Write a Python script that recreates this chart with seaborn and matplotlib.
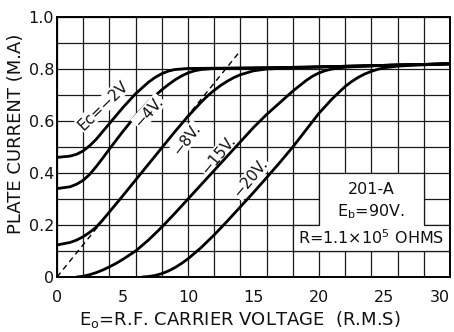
import numpy as np
import pandas as pd
import matplotlib
matplotlib.use("Agg")
import matplotlib.pyplot as plt
from matplotlib.ticker import MultipleLocator, FixedLocator
from matplotlib.patches import Polygon
import seaborn as sns

# Plate current (mA) of a 201-A detector vs. r.f. carrier voltage, one curve per grid bias
ec2_v = [0, 1, 1.5, 2, 2.5, 3, 3.5, 4, 5, 6, 7, 7.5, 8, 8.5, 9, 10, 12, 15, 20, 25, 30]
ec2_i = [0.46, 0.465, 0.472, 0.485, 0.505, 0.53, 0.56, 0.59, 0.65, 0.705, 0.75,
         0.768, 0.782, 0.792, 0.798, 0.802, 0.803, 0.804, 0.808, 0.814, 0.82]

ec4_v = [0, 1, 1.5, 2, 2.5, 3, 3.5, 4, 5, 6, 7, 8, 8.5, 9, 9.5, 10, 10.5, 11, 12,
         15, 20, 25, 30]
ec4_i = [0.34, 0.347, 0.357, 0.372, 0.395, 0.425, 0.458, 0.492, 0.558, 0.62,
         0.675, 0.72, 0.74, 0.758, 0.773, 0.785, 0.793, 0.798, 0.802, 0.804,
         0.808, 0.814, 0.82]

ec8_v = [0, 1, 1.5, 2, 2.5, 3, 3.5, 4, 5, 6, 7, 8, 9, 10, 11, 11.5, 12, 12.5, 13,
         13.5, 14, 15, 16, 20, 25, 30]
ec8_i = [0.123, 0.133, 0.142, 0.155, 0.172, 0.192, 0.22, 0.25, 0.311, 0.373,
         0.435, 0.497, 0.559, 0.618, 0.672, 0.697, 0.718, 0.737, 0.753, 0.767,
         0.778, 0.793, 0.80, 0.808, 0.814, 0.82]

ec15_v = [1.5, 2, 2.5, 3, 3.5, 4, 4.5, 5, 6, 7, 8, 9, 10, 11, 12, 13, 14, 15, 16,
          17, 18, 18.5, 19, 19.5, 20, 20.5, 21, 22, 25, 30]
ec15_i = [0.0, 0.003, 0.009, 0.017, 0.027, 0.039, 0.052, 0.067, 0.10, 0.143,
          0.192, 0.245, 0.30, 0.355, 0.41, 0.465, 0.52, 0.575, 0.625, 0.67, 0.715,
          0.735, 0.755, 0.772, 0.785, 0.794, 0.80, 0.807, 0.814, 0.82]

ec20_v = [6.5, 7, 7.5, 8, 8.5, 9, 9.5, 10, 11, 12, 13, 14, 15, 16, 17, 18, 19, 20,
          21, 22, 22.5, 23, 23.5, 24, 24.5, 25, 26, 27, 30]
ec20_i = [0.0, 0.002, 0.006, 0.013, 0.023, 0.036, 0.052, 0.07, 0.113, 0.162,
          0.215, 0.27, 0.325, 0.382, 0.44, 0.50, 0.565, 0.63, 0.685, 0.733, 0.752,
          0.768, 0.781, 0.791, 0.799, 0.805, 0.811, 0.814, 0.82]

# straight-line extension of the linear part of the -8 V curve
tangent_v = [0, 14]
tangent_i = [0.0, 0.87]

bias_labels = ["Ec=\u22122V", "\u22124V.", "\u22128V.", "\u221215V.", "\u221220V."]

x_ticks = [0, 5, 10, 15, 20, 25, 30]
y_ticks = [0, 0.2, 0.4, 0.6, 0.8, 1.0]
y_ticklabels = ["0", "0.2", "0.4", "0.6", "0.8", "1.0"]

frames = []
for name, v, i in zip(["-2", "-4", "-8", "-15", "-20"],
                      [ec2_v, ec4_v, ec8_v, ec15_v, ec20_v],
                      [ec2_i, ec4_i, ec8_i, ec15_i, ec20_i]):
    frames.append(pd.DataFrame({"E0": v, "Ip": i, "Ec": name}))
curves = pd.concat(frames, ignore_index=True)

sns.set_theme(style="white")
plt.rcParams["font.family"] = ["DejaVu Sans"]
plt.rcParams["mathtext.default"] = "regular"

fig = plt.figure(figsize=(4.54, 3.32), dpi=100)
ax = fig.add_axes([57 / 454, 1 - 277 / 332, (450 - 57) / 454, (277 - 17) / 332])

sns.lineplot(data=curves, x="E0", y="Ip", hue="Ec", palette=["black"] * 5,
             estimator=None, sort=False, legend=False, linewidth=2.0, ax=ax,
             zorder=4)
ax.plot(tangent_v, tangent_i, color="black", linestyle=(0, (4, 3)),
        linewidth=1.0, zorder=2)

ax.set_xlim(0, 30)
ax.set_ylim(0, 1.0)

# graph-paper grid: every 2 V and every 0.1 mA
ax.xaxis.set_major_locator(FixedLocator(x_ticks))
ax.yaxis.set_major_locator(FixedLocator(y_ticks))
ax.set_yticklabels(y_ticklabels)
ax.xaxis.set_minor_locator(MultipleLocator(2))
ax.yaxis.set_minor_locator(MultipleLocator(0.1))
ax.xaxis.remove_overlapping_locs = False
ax.yaxis.remove_overlapping_locs = False
ax.grid(False, which="major")
ax.grid(True, which="minor", color="#1a1a1a", linewidth=0.9)
ax.set_axisbelow(True)
ax.tick_params(which="both", length=0)
ax.tick_params(axis="x", labelsize=11.5, pad=9, colors="#111111")
ax.tick_params(axis="y", labelsize=11.5, pad=2, colors="#111111")
ax.get_xticklabels()[-1].set_horizontalalignment("right")

for s in ax.spines.values():
    s.set_visible(True)
    s.set_color("black")
    s.set_linewidth(1.4)

ax.set_xlabel("E$_o$=R.F. CARRIER VOLTAGE  (R.M.S)", fontsize=13,
              color="#111111")
ax.set_ylabel("PLATE CURRENT (M.A)", fontsize=13, color="#111111")
ax.xaxis.set_label_coords(0.465, -0.125)
ax.yaxis.set_label_coords(-0.082, 0.55)

# bias labels written along the curves
label_pos = [(3.5, 0.66, 44, 3), (7.0, 0.635, 48, 5), (9.9, 0.53, 52, 3),
             (12.3, 0.47, 50, 3), (14.8, 0.38, 50, 3)]
for txt, (lx, ly, rot, z) in zip(bias_labels, label_pos):
    ax.text(lx, ly, txt, rotation=rot, rotation_mode="anchor", ha="center",
            va="center", fontsize=11, color="#111111", zorder=z,
            bbox=dict(facecolor="white", edgecolor="none", pad=0.5))

# cleared panel of the graph paper for the tube data
panel = Polygon([(18, 0.1), (30, 0.1), (30, 0.2), (28, 0.2), (28, 0.4),
                 (20, 0.4), (20, 0.2), (18, 0.2)], closed=True,
                facecolor="white", edgecolor="#1a1a1a", linewidth=0.9, zorder=1)
ax.add_patch(panel)
ax.text(24, 0.335, "201-A", ha="center", va="center", fontsize=11.5,
        color="#111111", zorder=3)
ax.text(24, 0.25, "E$_b$=90V.", ha="center", va="center", fontsize=11.5,
        color="#111111", zorder=3)
ax.text(24, 0.15, "R=1.1\u00d710$^5$ OHMS", ha="center", va="center",
        fontsize=11.5, color="#111111", zorder=3)

fig.savefig("out.png", dpi=100, facecolor="white")
